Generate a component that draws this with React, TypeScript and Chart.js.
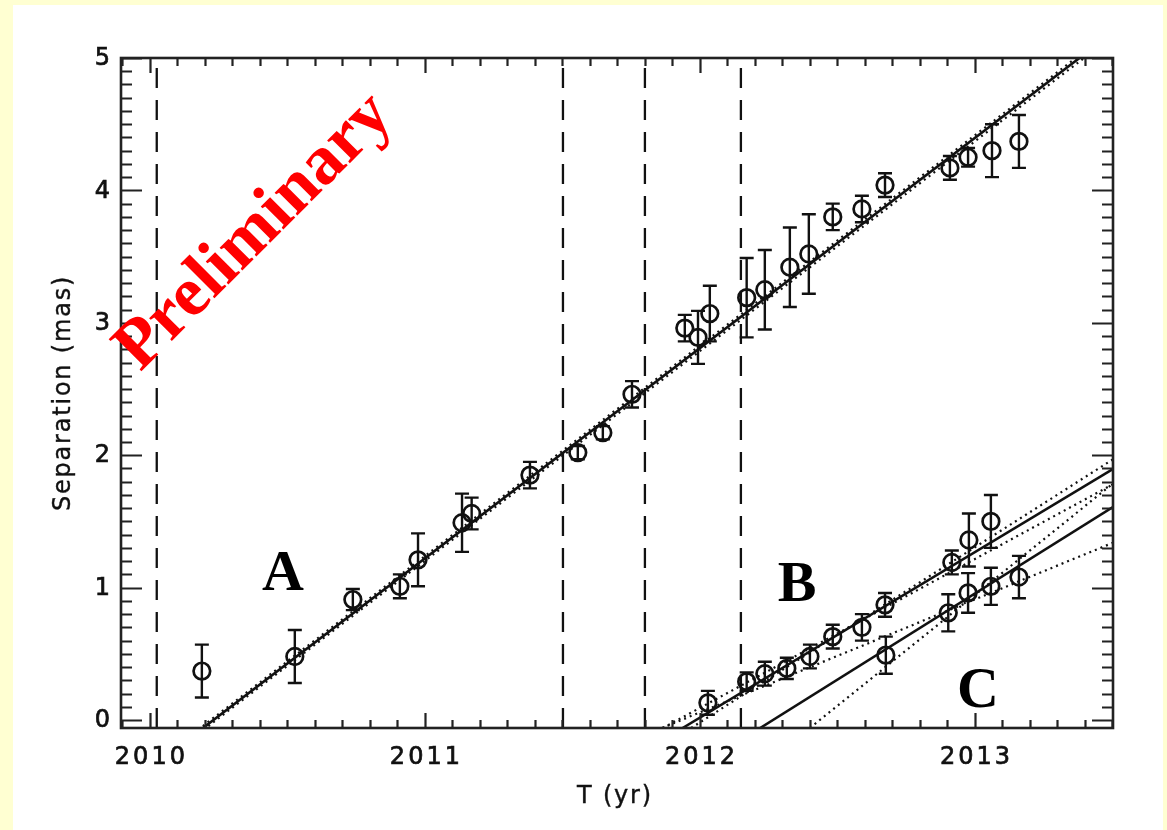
import React, { useEffect, useRef } from "react";
import { Chart, registerables } from "chart.js";

Chart.register(...registerables);

// ---- axis ranges & ticks ----
const X_MIN = 2009.895;
const X_MAX = 2013.502;
const Y_MIN = -0.06;
const Y_MAX = 5;
const xTickValues = [2010, 2011, 2012, 2013];
const xTickLabels = ["2010", "2011", "2012", "2013"];
const yTickValues = [0, 1, 2, 3, 4, 5];
const yTickLabels = ["0", "1", "2", "3", "4", "5"];
const X_MINOR_STEP = 0.1;
const Y_MINOR_STEP = 0.1;

// ---- vertical dashed epoch marks ----
const epochMarks = [2010.025, 2011.502, 2011.8, 2012.149];

// ---- component A ----
const compATimes = [2010.189, 2010.527, 2010.738, 2010.909, 2010.975, 2011.135, 2011.17, 2011.382, 2011.556, 2011.647, 2011.753, 2011.945, 2011.993, 2012.036, 2012.17, 2012.236, 2012.327, 2012.396, 2012.483, 2012.589, 2012.673, 2012.909, 2012.975, 2013.062, 2013.16];
const compASep = [0.37, 0.48, 0.91, 1.01, 1.21, 1.49, 1.56, 1.85, 2.02, 2.17, 2.46, 2.96, 2.89, 3.07, 3.19, 3.25, 3.42, 3.52, 3.8, 3.86, 4.04, 4.17, 4.25, 4.3, 4.37];
const compAErr = [0.2, 0.2, 0.08, 0.09, 0.2, 0.22, 0.12, 0.1, 0.05, 0.05, 0.1, 0.1, 0.2, 0.21, 0.3, 0.3, 0.3, 0.3, 0.1, 0.1, 0.09, 0.09, 0.07, 0.2, 0.2];

// ---- component B ----
const compBTimes = [2012.029, 2012.17, 2012.236, 2012.316, 2012.4, 2012.483, 2012.589, 2012.673, 2012.916, 2012.978, 2013.058];
const compBSep = [0.13, 0.29, 0.35, 0.39, 0.48, 0.63, 0.7, 0.87, 1.19, 1.36, 1.5];
const compBErr = [0.09, 0.07, 0.09, 0.08, 0.09, 0.09, 0.1, 0.09, 0.09, 0.2, 0.2];

// ---- component C ----
const compCTimes = [2012.676, 2012.903, 2012.975, 2013.058, 2013.16];
const compCSep = [0.49, 0.81, 0.96, 1.01, 1.08];
const compCErr = [0.14, 0.14, 0.15, 0.14, 0.16];

// ---- fitted proper-motion lines (end points) ----
const fitA = [{ x: 2010.168, y: -0.1 }, { x: 2013.443, y: 5.1 }];
const fitAUpper = [{ x: 2010.158, y: -0.1 }, { x: 2013.43, y: 5.1 }];
const fitALower = [{ x: 2010.178, y: -0.1 }, { x: 2013.46, y: 5.1 }];
const fitB = [{ x: 2011.937, y: -0.06 }, { x: 2013.51, y: 1.906 }];
const fitBSteep = [{ x: 2011.968, y: -0.06 }, { x: 2013.51, y: 1.98 }];
const fitBShallow = [{ x: 2011.865, y: -0.06 }, { x: 2013.51, y: 1.79 }];
const fitC = [{ x: 2012.219, y: -0.06 }, { x: 2013.51, y: 1.619 }];
const fitCSteep = [{ x: 2012.4, y: -0.06 }, { x: 2013.51, y: 1.8 }];
const fitCShallow = [{ x: 2011.862, y: -0.06 }, { x: 2013.51, y: 1.346 }];

// ---- annotations (data coordinates) ----
const labelA = { x: 2010.484, y: 1.11, text: "A" };
const labelB = { x: 2012.353, y: 1.03, text: "B" };
const labelC = { x: 2013.011, y: 0.226, text: "C" };
const watermark = { x: 2010.382, y: 3.683, text: "Preliminary" };

const INK = "#111111";

const toPts = (ts: number[], ys: number[]) => ts.map((t, i) => ({ x: t, y: ys[i] }));

const fitLine = (data: { x: number; y: number }[], dotted: boolean) => ({
  type: "line" as const,
  data,
  showLine: true,
  borderColor: INK,
  borderWidth: dotted ? 2.2 : 2.6,
  borderDash: dotted ? [2, 4] : [],
  pointRadius: 0,
  fill: false,
  order: 2,
});

const pointSet = (ts: number[], ys: number[], errs: number[]) => ({
  type: "scatter" as const,
  data: toPts(ts, ys),
  errorBars: errs,
  showLine: false,
  borderColor: INK,
  backgroundColor: "rgba(0,0,0,0)",
  borderWidth: 2.7,
  pointRadius: 8.3,
  pointStyle: "circle",
  order: 1,
});

const overlayPlugin = {
  id: "idlOverlay",
  afterDatasetsDraw(chart: any) {
    const { ctx, chartArea: ca, scales } = chart;
    const xs = scales.x;
    const ys = scales.y;
    ctx.save();

    // error bars
    ctx.beginPath();
    ctx.rect(ca.left, ca.top, ca.right - ca.left, ca.bottom - ca.top);
    ctx.clip();
    ctx.strokeStyle = INK;
    ctx.lineWidth = 2.4;
    chart.data.datasets.forEach((ds: any) => {
      if (!ds.errorBars) return;
      ds.data.forEach((p: any, i: number) => {
        const e = ds.errorBars[i];
        const px = xs.getPixelForValue(p.x);
        const y1 = ys.getPixelForValue(p.y + e);
        const y2 = ys.getPixelForValue(p.y - e);
        ctx.beginPath();
        ctx.moveTo(px, y1);
        ctx.lineTo(px, y2);
        ctx.moveTo(px - 7, y1);
        ctx.lineTo(px + 7, y1);
        ctx.moveTo(px - 7, y2);
        ctx.lineTo(px + 7, y2);
        ctx.stroke();
      });
    });
    ctx.restore();

    ctx.save();
    // frame
    ctx.strokeStyle = "#222";
    ctx.lineWidth = 2.6;
    ctx.strokeRect(ca.left, ca.top, ca.right - ca.left, ca.bottom - ca.top);

    // ticks (inside, mirrored)
    ctx.lineWidth = 2.2;
    ctx.beginPath();
    const xStart = Math.ceil(X_MIN / X_MINOR_STEP - 1e-6);
    const xEnd = Math.floor(X_MAX / X_MINOR_STEP + 1e-6);
    for (let k = xStart; k <= xEnd; k++) {
      const v = k * X_MINOR_STEP;
      const major = Math.abs(v - Math.round(v)) < 1e-6;
      const len = major ? 15 : 8;
      const px = Math.round(xs.getPixelForValue(v)) + 0.5;
      ctx.moveTo(px, ca.bottom);
      ctx.lineTo(px, ca.bottom - len);
      ctx.moveTo(px, ca.top);
      ctx.lineTo(px, ca.top + len);
    }
    const yStart = Math.ceil(Y_MIN / Y_MINOR_STEP - 1e-6);
    const yEnd = Math.floor(Y_MAX / Y_MINOR_STEP + 1e-6);
    for (let k = yStart; k <= yEnd; k++) {
      const v = k * Y_MINOR_STEP;
      const major = Math.abs(v - Math.round(v)) < 1e-6;
      const len = major ? 21 : 11;
      const py = Math.round(ys.getPixelForValue(v)) + 0.5;
      ctx.moveTo(ca.left, py);
      ctx.lineTo(ca.left + len, py);
      ctx.moveTo(ca.right, py);
      ctx.lineTo(ca.right - len, py);
    }
    ctx.stroke();

    // tick labels
    ctx.fillStyle = INK;
    ctx.strokeStyle = INK;
    ctx.lineWidth = 0.7;
    ctx.font = "24px 'DejaVu Sans'";
    (ctx as any).letterSpacing = "3px";
    ctx.textBaseline = "middle";
    ctx.textAlign = "center";
    xTickValues.forEach((v, i) => {
      const px = xs.getPixelForValue(v) + 1.5;
      ctx.fillText(xTickLabels[i], px, ca.bottom + 30);
      ctx.strokeText(xTickLabels[i], px, ca.bottom + 30);
    });
    ctx.textAlign = "right";
    yTickValues.forEach((v, i) => {
      const py = ys.getPixelForValue(v) + 1;
      ctx.fillText(yTickLabels[i], ca.left - 8, py);
      ctx.strokeText(yTickLabels[i], ca.left - 8, py);
    });

    // axis titles
    (ctx as any).letterSpacing = "1.8px";
    ctx.font = "24px 'DejaVu Sans'";
    ctx.lineWidth = 0.4;
    ctx.textAlign = "center";
    const tx = (ca.left + ca.right) / 2 - 2;
    ctx.fillText("T (yr)", tx, ca.bottom + 69);
    ctx.strokeText("T (yr)", tx, ca.bottom + 69);
    ctx.save();
    ctx.translate(ca.left - 57, (ca.top + ca.bottom) / 2);
    ctx.rotate(-Math.PI / 2);
    ctx.fillText("Separation (mas)", 0, 0);
    ctx.strokeText("Separation (mas)", 0, 0);
    ctx.restore();
    (ctx as any).letterSpacing = "0px";

    // component labels
    ctx.fillStyle = "#000";
    ctx.font = "bold 58px 'Liberation Serif'";
    ctx.textAlign = "center";
    ctx.textBaseline = "middle";
    [labelA, labelB, labelC].forEach((l) => {
      ctx.fillText(l.text, xs.getPixelForValue(l.x), ys.getPixelForValue(l.y) + 2);
    });

    // watermark
    ctx.save();
    ctx.translate(xs.getPixelForValue(watermark.x), ys.getPixelForValue(watermark.y));
    ctx.rotate(-Math.PI / 4);
    ctx.fillStyle = "#ff0000";
    ctx.font = "bold 70px 'Liberation Serif'";
    ctx.fillText(watermark.text, 0, 0);
    ctx.restore();

    ctx.restore();
  },
};

export default function App() {
  const canvasRef = useRef<HTMLCanvasElement | null>(null);

  useEffect(() => {
    const prevMargin = document.body.style.margin;
    document.body.style.margin = "0";
    const canvas = canvasRef.current;
    if (!canvas) return;

    const epochSets = epochMarks.map((t) => ({
      type: "line" as const,
      data: [{ x: t, y: Y_MAX }, { x: t, y: Y_MIN }],
      showLine: true,
      borderColor: INK,
      borderWidth: 2.3,
      borderDash: [20, 12],
      borderDashOffset: 22,
      pointRadius: 0,
      fill: false,
      order: 3,
    }));

    const chart = new Chart(canvas, {
      type: "scatter",
      data: {
        datasets: [
          ...epochSets,
          fitLine(fitA, false),
          fitLine(fitAUpper, true),
          fitLine(fitALower, true),
          fitLine(fitB, false),
          fitLine(fitBSteep, true),
          fitLine(fitBShallow, true),
          fitLine(fitC, false),
          fitLine(fitCSteep, true),
          fitLine(fitCShallow, true),
          pointSet(compATimes, compASep, compAErr),
          pointSet(compBTimes, compBSep, compBErr),
          pointSet(compCTimes, compCSep, compCErr),
        ] as any,
      },
      options: {
        responsive: false,
        animation: false,
        events: [],
        layout: { padding: { top: 58, right: 54, left: 0, bottom: 0 } },
        plugins: { legend: { display: false }, tooltip: { enabled: false } },
        scales: {
          x: {
            type: "linear",
            min: X_MIN,
            max: X_MAX,
            grid: { display: false, drawTicks: false },
            border: { display: false },
            ticks: { display: false },
            afterFit: (s: any) => {
              s.height = 102;
            },
          },
          y: {
            type: "linear",
            min: Y_MIN,
            max: Y_MAX,
            grid: { display: false, drawTicks: false },
            border: { display: false },
            ticks: { display: false },
            afterFit: (s: any) => {
              s.width = 121;
            },
          },
        },
      } as any,
      plugins: [overlayPlugin],
    });

    return () => {
      chart.destroy();
      document.body.style.margin = prevMargin;
    };
  }, []);

  return (
    <div
      style={{
        position: "absolute",
        left: 0,
        top: 0,
        width: 1167,
        height: 830,
        background: "#ffffd2",
        overflow: "hidden",
      }}
    >
      <div
        style={{
          position: "absolute",
          left: 13,
          top: 5,
          width: 1150,
          height: 825,
          background: "#ffffff",
        }}
      />
      <canvas
        ref={canvasRef}
        width={1167}
        height={830}
        style={{ position: "absolute", left: 0, top: 0, width: 1167, height: 830 }}
      />
    </div>
  );
}
